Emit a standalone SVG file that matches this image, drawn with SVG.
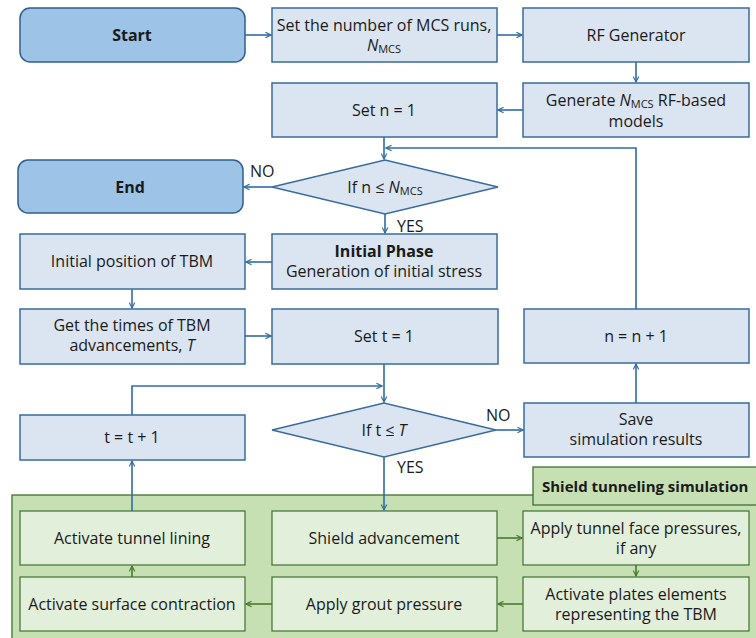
<svg xmlns="http://www.w3.org/2000/svg" width="756" height="638" viewBox="0 0 756 638">
  <style>
    text { font-family: "Open Sans", "Noto Sans", "Liberation Sans", sans-serif; font-size: 16px; fill: #1a1a1a; text-anchor: middle; }
    .b { font-weight: bold; }
    .lbl { text-anchor: start; }
    .title { font-size: 15px; }
    .it { font-style: italic; }
    .sub { font-size: 11px; }
    .term { fill: #9dc3e6; stroke: #2f5f8f; stroke-width: 1.5; }
    .box { fill: #dae5f1; stroke: #3a6b9c; stroke-width: 1.5; }
    .gbox { fill: #e2efda; stroke: #4a7a3a; stroke-width: 1.3; }
    .garea { fill: #c6e0b4; stroke: #3f6f2f; stroke-width: 1.3; }
    .conn { fill: none; stroke: #2e6ca4; stroke-width: 1.6; }
    .gconn { fill: none; stroke: #4a7a2e; stroke-width: 1.6; }
  </style>
  <defs>
    <marker id="ah" viewBox="0 0 10 10" refX="9" refY="5" markerWidth="7" markerHeight="7" orient="auto" markerUnits="userSpaceOnUse">
      <path d="M1,1 L9,5 L1,9" fill="none" stroke="#2e6ca4" stroke-width="1.6"/>
    </marker>
    <marker id="gh" viewBox="0 0 10 10" refX="9" refY="5" markerWidth="7" markerHeight="7" orient="auto" markerUnits="userSpaceOnUse">
      <path d="M1,1 L9,5 L1,9" fill="none" stroke="#4a7a2e" stroke-width="1.6"/>
    </marker>
  </defs>
  <rect width="756" height="638" fill="#ffffff"/>

  <!-- shield tunneling simulation area -->
  <g id="sim-area">
    <rect class="garea" x="12" y="495" width="750" height="150"/>
    <rect class="garea" x="533" y="467" width="230" height="38"/>
    <text class="b lbl title" x="542" y="492">Shield tunneling simulation</text>
  </g>

  <g id="start">
    <rect class="term" x="20" y="8" width="225" height="54" rx="10"/>
    <text class="b" x="132" y="41">Start</text>
  </g>
  <g id="set-nmcs">
    <rect class="box" x="272" y="8" width="225" height="54"/>
    <text x="384" y="31">Set the number of MCS runs,</text>
    <text x="384" y="51"><tspan class="it">N</tspan><tspan class="sub" dy="2">MCS</tspan></text>
  </g>
  <g id="rf-generator">
    <rect class="box" x="523" y="8" width="226" height="54"/>
    <text x="636" y="41">RF Generator</text>
  </g>
  <g id="generate-models">
    <rect class="box" x="523" y="83" width="226" height="54"/>
    <text x="636" y="106">Generate <tspan class="it">N</tspan><tspan class="sub" dy="2">MCS</tspan><tspan dy="-2"> RF-based</tspan></text>
    <text x="636" y="127">models</text>
  </g>
  <g id="set-n">
    <rect class="box" x="272" y="83" width="225" height="54"/>
    <text x="384" y="116">Set n = 1</text>
  </g>
  <g id="end">
    <rect class="term" x="18" y="160" width="225" height="53" rx="10"/>
    <text class="b" x="130" y="193">End</text>
  </g>
  <g id="if-n">
    <polygon class="box" points="272,187 385,160 498,187 385,214"/>
    <text x="385" y="193">If n ≤ <tspan class="it">N</tspan><tspan class="sub" dy="2">MCS</tspan></text>
  </g>
  <g id="initial-phase">
    <rect class="box" x="272" y="234" width="225" height="55"/>
    <text class="b" x="384" y="257">Initial Phase</text>
    <text x="384" y="277">Generation of initial stress</text>
  </g>
  <g id="initial-position">
    <rect class="box" x="20" y="234" width="225" height="55"/>
    <text x="132" y="267">Initial position of TBM</text>
  </g>
  <g id="get-times">
    <rect class="box" x="20" y="309" width="225" height="55"/>
    <text x="132" y="331">Get the times of TBM</text>
    <text x="132" y="351">advancements, <tspan class="it">T</tspan></text>
  </g>
  <g id="set-t">
    <rect class="box" x="272" y="309" width="226" height="55"/>
    <text x="384" y="342">Set t = 1</text>
  </g>
  <g id="n-increment">
    <rect class="box" x="524" y="309" width="225" height="54"/>
    <text x="636" y="342">n = n + 1</text>
  </g>
  <g id="if-t">
    <polygon class="box" points="272,430 384,403 496,430 384,457"/>
    <text x="384" y="436">If t ≤ <tspan class="it">T</tspan></text>
  </g>
  <g id="t-increment">
    <rect class="box" x="20" y="415" width="225" height="45"/>
    <text x="132" y="443">t = t + 1</text>
  </g>
  <g id="save-results">
    <rect class="box" x="524" y="403" width="225" height="54"/>
    <text x="636" y="425">Save</text>
    <text x="636" y="445">simulation results</text>
  </g>

  <g id="tunnel-lining">
    <rect class="gbox" x="20" y="511" width="225" height="54"/>
    <text x="132" y="544">Activate tunnel lining</text>
  </g>
  <g id="shield-advancement">
    <rect class="gbox" x="272" y="511" width="225" height="54"/>
    <text x="384" y="544">Shield advancement</text>
  </g>
  <g id="face-pressures">
    <rect class="gbox" x="523" y="511" width="226" height="54"/>
    <text x="636" y="534">Apply tunnel face pressures,</text>
    <text x="636" y="554">if any</text>
  </g>
  <g id="surface-contraction">
    <rect class="gbox" x="20" y="577" width="225" height="54"/>
    <text x="132" y="610">Activate surface contraction</text>
  </g>
  <g id="grout-pressure">
    <rect class="gbox" x="272" y="577" width="225" height="54"/>
    <text x="384" y="610">Apply grout pressure</text>
  </g>
  <g id="plate-elements">
    <rect class="gbox" x="523" y="577" width="226" height="54"/>
    <text x="636" y="600">Activate plates elements</text>
    <text x="636" y="620">representing the TBM</text>
  </g>

  <g id="connectors">
    <path class="conn" d="M245,35 H271" marker-end="url(#ah)"/>
    <path class="conn" d="M497,35 H522" marker-end="url(#ah)"/>
    <path class="conn" d="M636,62 V82" marker-end="url(#ah)"/>
    <path class="conn" d="M523,110 H498" marker-end="url(#ah)"/>
    <path class="conn" d="M384,137 V159" marker-end="url(#ah)"/>
    <path class="conn" d="M636,309 V148 H386" marker-end="url(#ah)"/>
    <path class="conn" d="M272,187 H244" marker-end="url(#ah)"/>
    <path class="conn" d="M385,214 V233" marker-end="url(#ah)"/>
    <path class="conn" d="M272,262 H246" marker-end="url(#ah)"/>
    <path class="conn" d="M132,289 V308" marker-end="url(#ah)"/>
    <path class="conn" d="M245,336 H271" marker-end="url(#ah)"/>
    <path class="conn" d="M384,364 V402" marker-end="url(#ah)"/>
    <path class="conn" d="M132,415 V386 H382" marker-end="url(#ah)"/>
    <path class="conn" d="M496,430 H523" marker-end="url(#ah)"/>
    <path class="conn" d="M636,403 V364" marker-end="url(#ah)"/>
    <path class="conn" d="M384,457 V510" marker-end="url(#ah)"/>
    <path class="conn" d="M132,511 V461" marker-end="url(#ah)"/>
    <path class="gconn" d="M497,538 H522" marker-end="url(#gh)"/>
    <path class="gconn" d="M636,565 V576" marker-end="url(#gh)"/>
    <path class="gconn" d="M523,604 H498" marker-end="url(#gh)"/>
    <path class="gconn" d="M272,604 H246" marker-end="url(#gh)"/>
    <path class="gconn" d="M132,577 V566" marker-end="url(#gh)"/>
    <text class="lbl" x="250" y="177">NO</text>
    <text class="lbl" x="397" y="232">YES</text>
    <text class="lbl" x="486" y="421">NO</text>
    <text class="lbl" x="397" y="473">YES</text>
  </g>
</svg>
